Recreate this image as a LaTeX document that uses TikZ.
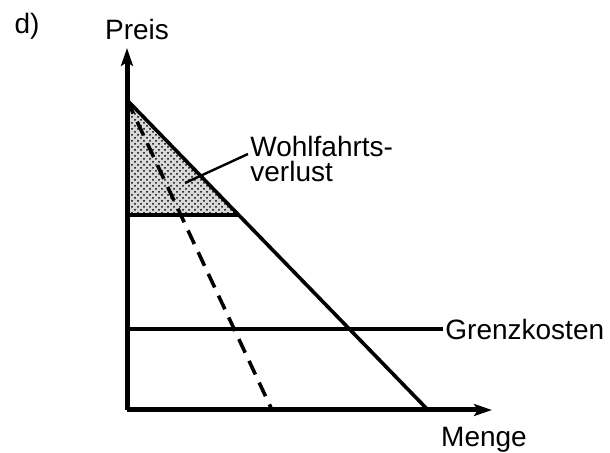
\documentclass[tikz,border=0pt]{standalone}
\usepackage{fontspec}
\setmainfont{Liberation Sans}
\usetikzlibrary{arrows.meta,patterns}
\begin{document}
\begin{tikzpicture}[x=0.5pt, y=-0.5pt, line join=round, font=\fontsize{14}{12.8}\selectfont,
    axis/.style={line width=2.5pt, -{Stealth[length=9pt, width=6pt, inset=2pt]}},
    curve/.style={line width=1.8pt},
    label/.style={inner sep=1pt}]
	\useasboundingbox (0,0) rectangle (610,453);
	\coordinate (O) at (127,410);
	\coordinate (P) at (127,100);
	\coordinate (D) at (428,410);
	\coordinate (M) at (272,410);
	\coordinate (Q) at (127,215);
	\coordinate (S) at (238,215);
	\coordinate (K) at (127,329);
	% Wohlfahrtsverlust
	\fill[gray!30] (P) -- (Q) -- (S) -- cycle;
	\fill[pattern=crosshatch dots] (P) -- (Q) -- (S) -- cycle;
	\draw[curve] (Q) -- (S);
	\draw[curve, dash pattern=on 7.5pt off 4.5pt] (P) -- (M);
	\draw[curve] (P) -- (D);
	\node[label, anchor=west] (gk) at (443,329) {Grenzkosten};
	\draw[curve] (K) -- (gk.west);
	\node[label, anchor=west, align=left] (wv) at (248,159) {Wohlfahrts-\\verlust};
	\coordinate (wvend) at (185,183);
	\draw[line width=1.2pt] (wv.west) ++(0,-5) -- (wvend);
	% Achsen
	\draw[axis] (O) -- (127,48);
	\draw[axis] (O) -- (492,410);
	\node (y) at (137,30) {Preis};
	\node (x) at (484,440) {Menge};
	\node (d) at (27,26) {d)};
\end{tikzpicture}
\end{document}
